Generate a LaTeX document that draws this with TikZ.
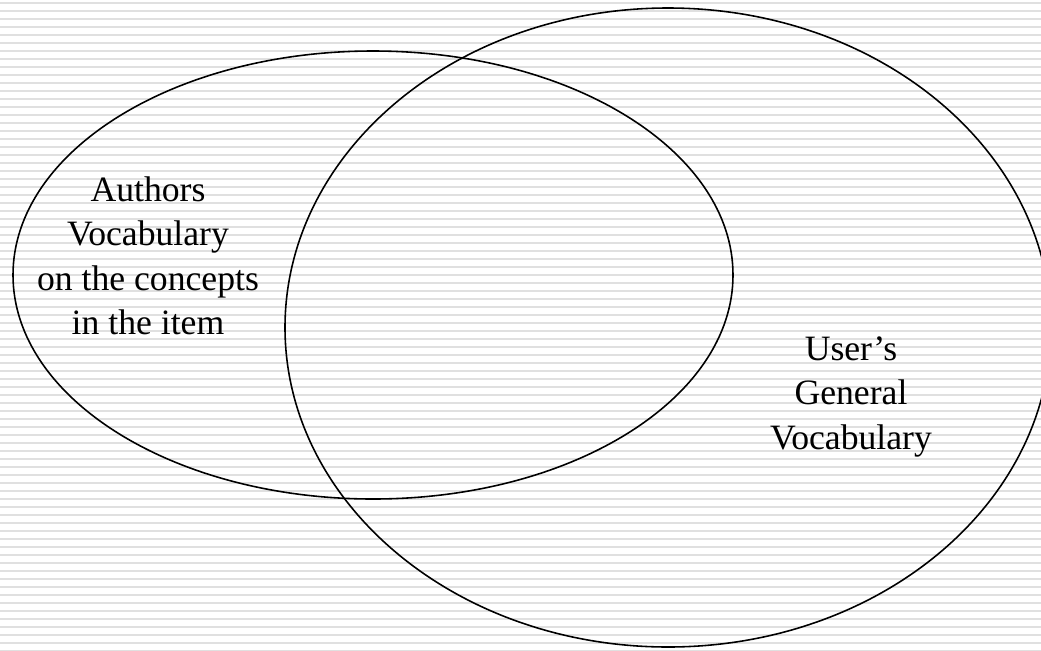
\documentclass[tikz,border=0pt]{standalone}
\usepackage{fontspec}
\setmainfont{Liberation Serif}
\usepackage{xcolor}
\usepackage{tikz}
\usetikzlibrary{calc}
\tikzset{
	vocab/.style={align=center, font=\fontsize{20.3pt}{25.4pt}\selectfont, inner sep=0pt},
	stripe/.style={fill=black!12, draw=none}
}

\begin{document}
\begin{tikzpicture}[x=0.02cm, y=-0.02cm]
	\coordinate[](NW) at (0,0);
	\coordinate[](SE) at (1041,650);
	
	\coordinate[](Ac) at (373,275);
	\coordinate[](Uc) at (668,327.5);
	
	\useasboundingbox (NW) rectangle (SE);
	\clip (NW) rectangle (SE);
	
	% Sfondo
	\fill[white] (NW) rectangle (SE);
	\foreach \i in {0,...,81}
		\fill[stripe] (0,{8*\i+1.5}) rectangle (1041,{8*\i+3.8});
	
	% Insiemi
	\draw[line width=0.9pt, black] (Ac) ellipse [x radius=360, y radius=224];
	\draw[line width=0.9pt, black] (Uc) ellipse [x radius=383, y radius=319.5];
	
	%% Testi
	\node[vocab, anchor=north] (authors) at (148,176) {Authors\\Vocabulary\\on the concepts\\in the item};
	\node[vocab, anchor=north] (user) at (851,336) {User’s\\General\\Vocabulary};
			
\end{tikzpicture}
\end{document}
